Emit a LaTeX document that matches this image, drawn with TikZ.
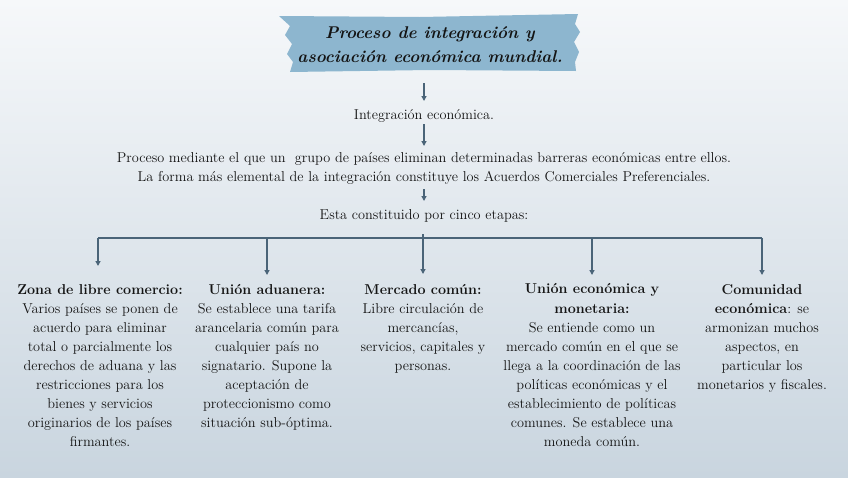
\documentclass[tikz,border=0pt]{standalone}
\usepackage{fontspec}
\usetikzlibrary{arrows.meta}
\definecolor{bgtop}{HTML}{F6F8FA}
\definecolor{bgbot}{HTML}{C9D5DF}
\definecolor{tape}{HTML}{8DB6CF}
\definecolor{arr}{HTML}{4A6478}
\definecolor{txt}{HTML}{141414}
\tikzset{
  conn/.style={draw=arr, line width=1.8pt, -{Triangle[length=5pt,width=5pt]}},
  plain/.style={draw=arr, line width=1.8pt},
  body/.style={text=txt, font=\fontsize{14.3}{19}\selectfont, align=center, inner sep=0pt, anchor=north},
  ttl/.style={text=txt, font=\fontsize{14.3}{19}\selectfont, inner sep=0pt},
}
\begin{document}
\begin{tikzpicture}[x=1pt,y=-1pt]
\shade[top color=bgtop, bottom color=bgbot] (0,0) rectangle (848,477);
\useasboundingbox (0,0) rectangle (848,477);
% tape
\fill[tape] (279,16) -- (420,17) -- (578,14) -- (575,24) -- (580,32) -- (574,42) -- (579,52) -- (575,62) -- (576,71) -- (430,70) -- (290,72) -- (293,62) -- (287,54) -- (292,44) -- (285,35) -- (290,26) -- cycle;
\node[text=txt, font=\fontsize{17}{24}\bfseries\itshape, align=center, inner sep=0pt] (title) at (430,45) {Proceso de integración y\\asociación económica mundial.};
\coordinate (a1s) at (424,83);
\node[ttl] (ie) at (424,115.5) {Integración económica.};
\node[body] (def) at (424,152) {Proceso mediante el que un \ grupo de países eliminan determinadas barreras económicas entre ellos.\\La forma más elemental de la integración constituye los Acuerdos Comerciales Preferenciales.};
\node[ttl] (eta) at (424,216) {Esta constituido por cinco etapas:};
\draw[conn] (a1s) -- (424,101);
\draw[conn] (424,124) coordinate (a2s) -- (424,146);
\draw[conn] (424,189) coordinate (a3s) -- (424,201);
% bracket
\coordinate (hb) at (423,238);
\coordinate (h1) at (98,238);
\coordinate (h5) at (762,238);
\draw[plain] (h1) -- (h5);
\draw[plain] (423,234) -- (hb);
\node[body] (c1) at (100,284) {\textbf{Zona de libre comercio:}\\Varios países se ponen de\\acuerdo para eliminar\\total o parcialmente los\\derechos de aduana y las\\restricciones para los\\bienes y servicios\\originarios de los países\\firmantes.};
\node[body] (c2) at (267,284) {\textbf{Unión aduanera:}\\Se establece una tarifa\\arancelaria común para\\cualquier país no\\signatario. Supone la\\aceptación de\\proteccionismo como\\situación sub-óptima.};
\node[body] (c3) at (423,284) {\textbf{Mercado común:}\\Libre circulación de\\mercancías,\\servicios, capitales y\\personas.};
\node[body] (c4) at (592,283) {\textbf{Unión económica y}\\[1pt]\textbf{monetaria:}\\Se entiende como un\\mercado común en el que se\\llega a la coordinación de las\\políticas económicas y el\\establecimiento de políticas\\comunes. Se establece una\\moneda común.};
\node[body] (c5) at (762,284) {\textbf{Comunidad}\\\textbf{económica}: se\\armonizan muchos\\aspectos, en\\particular los\\monetarios y fiscales.};
\draw[conn] (h1) -- (98,266);
\draw[conn] (267,238) -- (267,275);
\draw[conn] (423,238) -- (423,274);
\draw[conn] (592,238) -- (592,275);
\draw[conn] (h5) -- (762,275);
\end{tikzpicture}
\end{document}
